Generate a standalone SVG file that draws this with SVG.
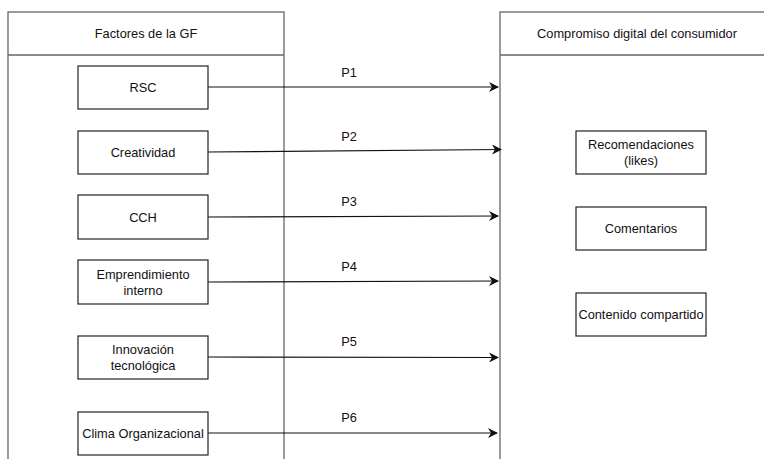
<svg xmlns="http://www.w3.org/2000/svg" width="764" height="459" viewBox="0 0 764 459">
<defs>
<style>
text{font-family:"Liberation Sans",Arial,sans-serif;font-size:12.8px;fill:#111;text-anchor:middle;dominant-baseline:central}
.cont{fill:#fff;stroke:#666;stroke-width:1.3}
.box{fill:#fff;stroke:#222;stroke-width:1.2}
.edge{fill:none;stroke:#111;stroke-width:1.2;marker-end:url(#ah)}
</style>
<marker id="ah" viewBox="0 0 10 10" refX="9" refY="5" markerWidth="10" markerHeight="10" markerUnits="userSpaceOnUse" orient="auto">
<path d="M0,0 L10,5 L0,10 L3,5 Z" fill="#111"/>
</marker>
</defs>
<rect width="764" height="459" fill="#fff"/>
<g id="left-container">
<rect class="cont" x="8" y="12" width="276" height="460"/>
<line class="cont" x1="8" y1="55" x2="284" y2="55"/>
<text x="146" y="33">Factores de la GF</text>
</g>
<g id="right-container">
<rect class="cont" x="500" y="12" width="280" height="460"/>
<line class="cont" x1="500" y1="55" x2="780" y2="55"/>
<text x="637" y="33">Compromiso digital del consumidor</text>
</g>
<g id="connectors">
<line class="edge" x1="208" y1="87" x2="498" y2="87"/>
<line class="edge" x1="208" y1="152" x2="501" y2="149.5"/>
<line class="edge" x1="208" y1="217" x2="498" y2="216"/>
<line class="edge" x1="208" y1="282" x2="498" y2="281"/>
<line class="edge" x1="208" y1="357" x2="498" y2="357.5"/>
<line class="edge" x1="208" y1="433" x2="497" y2="433"/>
<text x="349" y="72">P1</text>
<text x="349" y="136">P2</text>
<text x="349" y="201">P3</text>
<text x="349" y="266">P4</text>
<text x="349" y="341">P5</text>
<text x="349" y="417">P6</text>
</g>
<g id="rsc"><rect class="box" x="78" y="66" width="130" height="43"/><text x="143" y="87.5">RSC</text></g>
<g id="creatividad"><rect class="box" x="78" y="131" width="130" height="43"/><text x="143" y="152.5">Creatividad</text></g>
<g id="cch"><rect class="box" x="78" y="195" width="130" height="44"/><text x="143" y="217">CCH</text></g>
<g id="emprendimiento"><rect class="box" x="78" y="260" width="130" height="44"/><text x="143" y="274">Emprendimiento</text><text x="143" y="290">interno</text></g>
<g id="innovacion"><rect class="box" x="78" y="336" width="130" height="43"/><text x="143" y="349.5">Innovación</text><text x="143" y="365.5">tecnológica</text></g>
<g id="clima"><rect class="box" x="78" y="412" width="130" height="43"/><text x="143" y="433.5">Clima Organizacional</text></g>
<g id="recomendaciones"><rect class="box" x="576" y="131" width="130" height="43"/><text x="641" y="144.5">Recomendaciones</text><text x="641" y="160.5">(likes)</text></g>
<g id="comentarios"><rect class="box" x="576" y="207" width="130" height="43"/><text x="641" y="228.5">Comentarios</text></g>
<g id="contenido"><rect class="box" x="576" y="293" width="130" height="43"/><text x="641" y="314.5">Contenido compartido</text></g>
</svg>
